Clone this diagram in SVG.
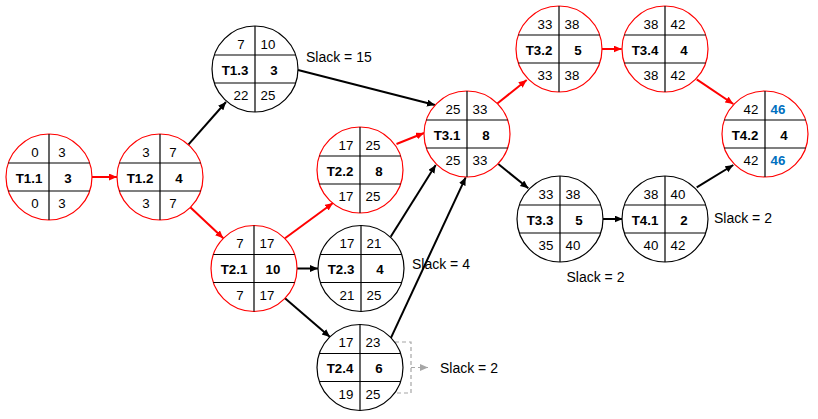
<svg xmlns="http://www.w3.org/2000/svg" width="818" height="419" viewBox="0 0 818 419">
<style>
  text { font-family: "Liberation Sans", Arial, sans-serif; font-size: 13.3px; text-anchor: middle; fill: #000; }
  .b { font-weight: bold; }
  .blue { fill: #0070C0; font-weight: bold; }
  .slack { font-size: 14px; text-anchor: start; }
  .ring { fill: #fff; stroke-width: 1.2; }
  .crit { stroke: #FF0000; }
  .norm { stroke: #000; }
  .div { stroke: #000; stroke-width: 1.2; fill: none; }
  .ar { fill: none; stroke-width: 2; }
  .ar.r { stroke: #FF0000; marker-end: url(#hr); }
  .ar.k { stroke: #000; marker-end: url(#hk); }
</style>
<defs>
  <marker id="hr" markerUnits="userSpaceOnUse" markerWidth="9" markerHeight="8" refX="8" refY="3.5" orient="auto">
    <path d="M0,0 L8,3.5 L0,7 z" fill="#FF0000"/>
  </marker>
  <marker id="hk" markerUnits="userSpaceOnUse" markerWidth="9" markerHeight="8" refX="8" refY="3.5" orient="auto">
    <path d="M0,0 L8,3.5 L0,7 z" fill="#000"/>
  </marker>
  <marker id="hg" markerUnits="userSpaceOnUse" markerWidth="9" markerHeight="8" refX="8" refY="3.5" orient="auto">
    <path d="M0,0 L8,3.5 L0,7 z" fill="#A6A6A6"/>
  </marker>
  <path id="grid" d="M-40.7,-14 H40.7 M-40.7,14 H40.7 M0,-43 V43"/>
</defs>

<g id="connectors">
  <line class="ar r" x1="92" y1="177" x2="117" y2="177"/>
  <line class="ar k" x1="188.4" y1="144.7" x2="226" y2="102"/>
  <line class="ar r" x1="190" y1="207" x2="223.3" y2="238.3"/>
  <line class="ar k" x1="298" y1="70" x2="435" y2="105"/>
  <line class="ar r" x1="396.5" y1="144" x2="424" y2="133"/>
  <line class="ar r" x1="285" y1="238.3" x2="333" y2="203"/>
  <line class="ar k" x1="297" y1="268.5" x2="318" y2="268.5"/>
  <line class="ar k" x1="285" y1="298.3" x2="330" y2="337"/>
  <line class="ar k" x1="390.7" y1="236.7" x2="435.7" y2="165"/>
  <line class="ar k" x1="390.7" y1="338.3" x2="465.7" y2="177.3"/>
  <line class="ar r" x1="496.7" y1="104" x2="526.7" y2="80"/>
  <line class="ar k" x1="498.3" y1="164" x2="528.3" y2="188.3"/>
  <line class="ar r" x1="601" y1="49" x2="621.7" y2="49"/>
  <line class="ar r" x1="696.7" y1="79.3" x2="733.3" y2="104"/>
  <line class="ar k" x1="601.7" y1="219" x2="622.7" y2="219"/>
  <line class="ar k" x1="696.7" y1="187.3" x2="733.3" y2="165"/>
  <path d="M395,342 H411 V393 H395" fill="none" stroke="#A6A6A6" stroke-width="1.2" stroke-dasharray="4,3"/>
  <line x1="411" y1="367.5" x2="428" y2="367.5" stroke="#A6A6A6" stroke-width="1.2" stroke-dasharray="4,3" marker-end="url(#hg)"/>
</g>

<g id="T1.1" transform="translate(49,177)">
  <circle class="ring crit" r="43"/><use href="#grid" class="div"/>
  <text x="-14" y="-20.5">0</text><text x="13" y="-20.5">3</text>
  <text class="b" x="-20" y="5.5">T1.1</text><text class="b" x="19" y="5.5">3</text>
  <text x="-14" y="31">0</text><text x="13" y="31">3</text>
</g>
<g id="T1.2" transform="translate(160,177)">
  <circle class="ring crit" r="43"/><use href="#grid" class="div"/>
  <text x="-14" y="-20.5">3</text><text x="13" y="-20.5">7</text>
  <text class="b" x="-20" y="5.5">T1.2</text><text class="b" x="19" y="5.5">4</text>
  <text x="-14" y="31">3</text><text x="13" y="31">7</text>
</g>
<g id="T1.3" transform="translate(255,69)">
  <circle class="ring norm" r="43"/><use href="#grid" class="div"/>
  <text x="-14" y="-20.5">7</text><text x="13" y="-20.5">10</text>
  <text class="b" x="-20" y="5.5">T1.3</text><text class="b" x="19" y="5.5">3</text>
  <text x="-14" y="31">22</text><text x="13" y="31">25</text>
</g>
<g id="T2.1" transform="translate(254,268.5)">
  <circle class="ring crit" r="43"/><use href="#grid" class="div"/>
  <text x="-14" y="-20.5">7</text><text x="13" y="-20.5">17</text>
  <text class="b" x="-20" y="5.5">T2.1</text><text class="b" x="19" y="5.5">10</text>
  <text x="-14" y="31">7</text><text x="13" y="31">17</text>
</g>
<g id="T2.2" transform="translate(360,170)">
  <circle class="ring crit" r="43"/><use href="#grid" class="div"/>
  <text x="-14" y="-20.5">17</text><text x="13" y="-20.5">25</text>
  <text class="b" x="-20" y="5.5">T2.2</text><text class="b" x="19" y="5.5">8</text>
  <text x="-14" y="31">17</text><text x="13" y="31">25</text>
</g>
<g id="T2.3" transform="translate(361,268.5)">
  <circle class="ring norm" r="43"/><use href="#grid" class="div"/>
  <text x="-14" y="-20.5">17</text><text x="13" y="-20.5">21</text>
  <text class="b" x="-20" y="5.5">T2.3</text><text class="b" x="19" y="5.5">4</text>
  <text x="-14" y="31">21</text><text x="13" y="31">25</text>
</g>
<g id="T2.4" transform="translate(360,367.5)">
  <circle class="ring norm" r="43"/><use href="#grid" class="div"/>
  <text x="-14" y="-20.5">17</text><text x="13" y="-20.5">23</text>
  <text class="b" x="-20" y="5.5">T2.4</text><text class="b" x="19" y="5.5">6</text>
  <text x="-14" y="31">19</text><text x="13" y="31">25</text>
</g>
<g id="T3.1" transform="translate(467,134)">
  <circle class="ring crit" r="43"/><use href="#grid" class="div"/>
  <text x="-14" y="-20.5">25</text><text x="13" y="-20.5">33</text>
  <text class="b" x="-20" y="5.5">T3.1</text><text class="b" x="19" y="5.5">8</text>
  <text x="-14" y="31">25</text><text x="13" y="31">33</text>
</g>
<g id="T3.2" transform="translate(559,49)">
  <circle class="ring crit" r="43"/><use href="#grid" class="div"/>
  <text x="-14" y="-20.5">33</text><text x="13" y="-20.5">38</text>
  <text class="b" x="-20" y="5.5">T3.2</text><text class="b" x="19" y="5.5">5</text>
  <text x="-14" y="31">33</text><text x="13" y="31">38</text>
</g>
<g id="T3.3" transform="translate(560,219)">
  <circle class="ring norm" r="43"/><use href="#grid" class="div"/>
  <text x="-14" y="-20.5">33</text><text x="13" y="-20.5">38</text>
  <text class="b" x="-20" y="5.5">T3.3</text><text class="b" x="19" y="5.5">5</text>
  <text x="-14" y="31">35</text><text x="13" y="31">40</text>
</g>
<g id="T3.4" transform="translate(665,49)">
  <circle class="ring crit" r="43"/><use href="#grid" class="div"/>
  <text x="-14" y="-20.5">38</text><text x="13" y="-20.5">42</text>
  <text class="b" x="-20" y="5.5">T3.4</text><text class="b" x="19" y="5.5">4</text>
  <text x="-14" y="31">38</text><text x="13" y="31">42</text>
</g>
<g id="T4.1" transform="translate(665,219)">
  <circle class="ring norm" r="43"/><use href="#grid" class="div"/>
  <text x="-14" y="-20.5">38</text><text x="13" y="-20.5">40</text>
  <text class="b" x="-20" y="5.5">T4.1</text><text class="b" x="19" y="5.5">2</text>
  <text x="-14" y="31">40</text><text x="13" y="31">42</text>
</g>
<g id="T4.2" transform="translate(765,134)">
  <circle class="ring crit" r="43"/><use href="#grid" class="div"/>
  <text x="-14" y="-20.5">42</text><text class="blue" x="13" y="-20.5">46</text>
  <text class="b" x="-20" y="5.5">T4.2</text><text class="b" x="19" y="5.5">4</text>
  <text x="-14" y="31">42</text><text class="blue" x="13" y="31">46</text>
</g>

<g id="slack-labels">
  <text class="slack" x="306" y="62">Slack = 15</text>
  <text class="slack" x="412" y="268.5">Slack = 4</text>
  <text class="slack" x="440" y="373">Slack = 2</text>
  <text class="slack" x="566.5" y="282">Slack = 2</text>
  <text class="slack" x="714" y="223">Slack = 2</text>
</g>
</svg>
